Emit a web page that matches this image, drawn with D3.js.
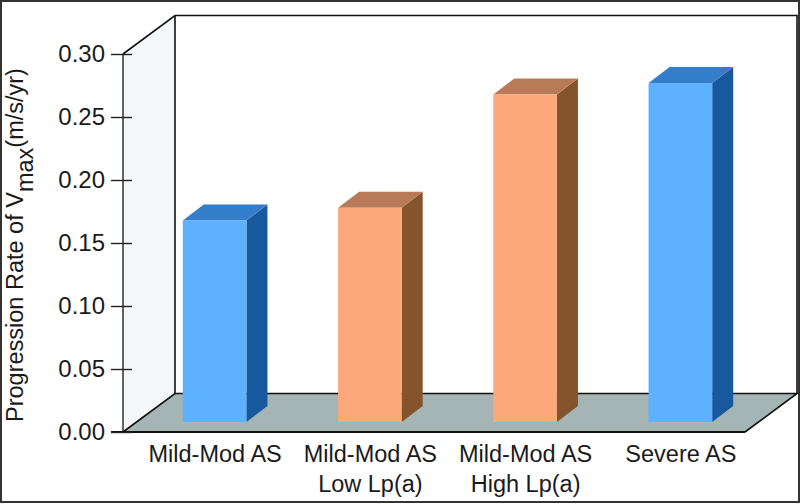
<!DOCTYPE html>
<html>
<head>
<meta charset="utf-8">
<script src="https://cdn.jsdelivr.net/npm/d3@7"></script>
<style>
  html, body { margin: 0; padding: 0; background: #fff; }
  text { font-family: "Liberation Sans", Arial, sans-serif; fill: #1a1a1a; }
</style>
</head>
<body>
<svg id="chart" width="800" height="504"></svg>
<script>
// values
const categories = ["Mild-Mod AS", "Mild-Mod AS|Low Lp(a)", "Mild-Mod AS|High Lp(a)", "Severe AS"];
const rates = [0.16, 0.17, 0.26, 0.269];
const groups = ["blue", "orange", "orange", "blue"];
const tickValues = [0, 0.05, 0.1, 0.15, 0.2, 0.25, 0.3];

const faceColors = {
  blue: { front: "#5eb1ff", top: "#347dcb", side: "#17589f" },
  orange: { front: "#fca87c", top: "#b97b57", side: "#84552c" },
};

const svg = d3.select("#chart");

const y = d3.scaleLinear().domain([0, 0.3]).range([432, 54]);
const x = d3.scaleBand().domain(d3.range(categories.length)).range([137, 758]).paddingInner(0.59).paddingOuter(0.295);

// box depth, wall/floor and the bars
const wallDx = 52, wallDy = -38.5;
const barDx = 21, barDy = -16, barLift = 10;
const left = 123, right = 745;

const poly = (pts) => "M" + pts.map((p) => p.join(",")).join("L") + "Z";

svg.append("rect").attr("x", 1).attr("y", 1).attr("width", 798).attr("height", 501)
  .attr("fill", "#fff").attr("stroke", "#333").attr("stroke-width", 2);

// left wall
svg.append("path")
  .attr("d", poly([[left, y(0.3)], [left + wallDx, y(0.3) + wallDy], [left + wallDx, y(0) + wallDy], [left, y(0)]]))
  .attr("fill", "#f4f7f7");

// floor
svg.append("path")
  .attr("d", poly([[left, y(0)], [left + wallDx, y(0) + wallDy], [right + wallDx, y(0) + wallDy], [right, y(0)]]))
  .attr("fill", "#a5b4b5");

// box outline
const outline = d3.path();
outline.moveTo(left, y(0));
outline.lineTo(left + wallDx, y(0) + wallDy);
outline.lineTo(right + wallDx, y(0) + wallDy);
outline.lineTo(right, y(0));
outline.moveTo(left, y(0.3));
outline.lineTo(left + wallDx, y(0.3) + wallDy);
outline.lineTo(right + wallDx, y(0.3) + wallDy);
outline.lineTo(right + wallDx, y(0) + wallDy);
outline.moveTo(left + wallDx, y(0.3) + wallDy);
outline.lineTo(left + wallDx, y(0) + wallDy);
svg.append("path").attr("d", outline.toString()).attr("fill", "none").attr("stroke", "#111").attr("stroke-width", 1.6);

// front axis line and baseline
svg.append("line").attr("x1", left).attr("x2", left).attr("y1", y(0.3)).attr("y2", y(0))
  .attr("stroke", "#222").attr("stroke-width", 1.4);
svg.append("line").attr("x1", 111).attr("x2", right).attr("y1", y(0)).attr("y2", y(0))
  .attr("stroke", "#111").attr("stroke-width", 2.2);

// bars
const bars = svg.append("g").selectAll("g").data(rates).join("g");

bars.append("path")
  .attr("fill", (d, i) => faceColors[groups[i]].side)
  .attr("d", (d, i) => {
    const xr = x(i) + x.bandwidth(), top = y(d) - barLift, bottom = y(0) - barLift;
    return poly([[xr, top], [xr + barDx, top + barDy], [xr + barDx, bottom + barDy], [xr, bottom]]);
  });

bars.append("path")
  .attr("fill", (d, i) => faceColors[groups[i]].top)
  .attr("d", (d, i) => {
    const xl = x(i), xr = xl + x.bandwidth(), top = y(d) - barLift;
    return poly([[xl, top], [xl + barDx, top + barDy], [xr + barDx, top + barDy], [xr, top]]);
  });

bars.append("rect")
  .attr("fill", (d, i) => faceColors[groups[i]].front)
  .attr("x", (d, i) => x(i))
  .attr("width", x.bandwidth())
  .attr("y", (d) => y(d) - barLift)
  .attr("height", (d) => y(0) - y(d));

// y axis, ticks cross the axis line
const axis = svg.append("g")
  .attr("transform", "translate(132,0)")
  .call(d3.axisLeft(y).tickValues(tickValues).tickSize(21).tickPadding(6).tickFormat(d3.format(".2f")));
axis.select(".domain").remove();
axis.selectAll("line").attr("stroke", "#222").attr("stroke-width", 1.4);
axis.selectAll("text").attr("font-size", 24).attr("font-family", null).attr("fill", null);
axis.attr("font-family", null).attr("font-size", null);

// category labels
const labels = svg.append("g").selectAll("text").data(categories).join("text")
  .attr("text-anchor", "middle")
  .attr("font-size", 23.5);
labels.selectAll("tspan").data((d, i) => d.split("|").map((t) => ({ t, i }))).join("tspan")
  .attr("x", (d) => x(d.i) + x.bandwidth() / 2 + 0.5)
  .attr("y", (d, j) => 462 + j * 29.5)
  .text((d) => d.t);

// y title with the subscript
const title = svg.append("text")
  .attr("transform", "translate(22.5,422) rotate(-90)")
  .attr("font-size", 23.5);
title.append("tspan").text("Progression Rate of V");
title.append("tspan").attr("dy", 10).text("max");
title.append("tspan").attr("dy", -10).text("(m/s/yr)");
</script>
</body>
</html>
